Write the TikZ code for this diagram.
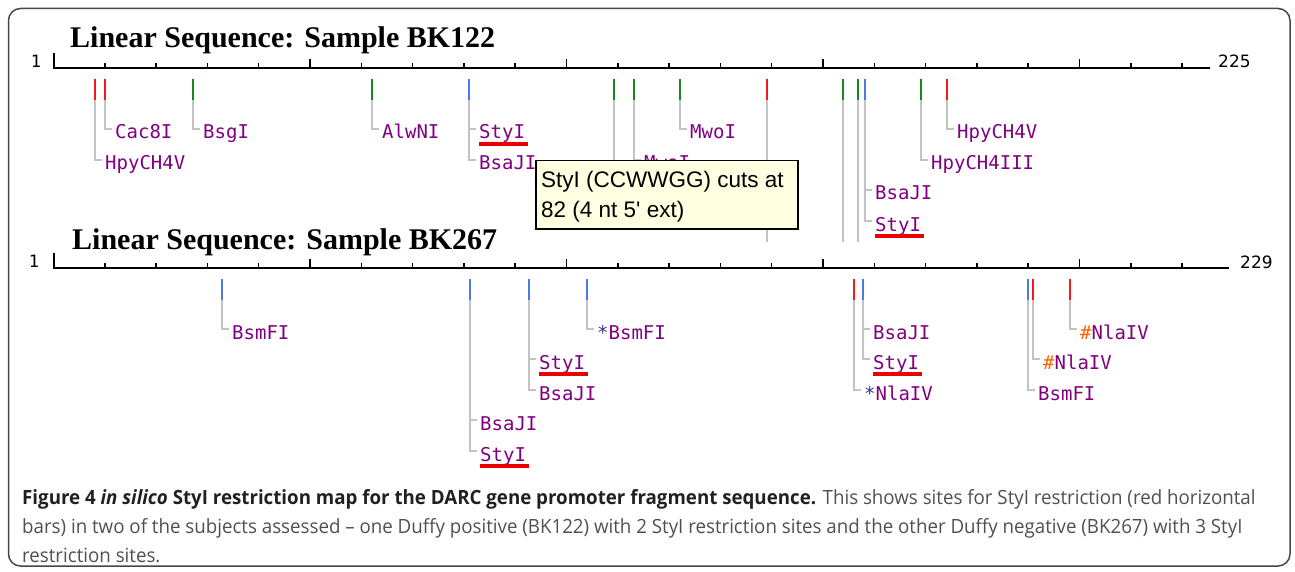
\documentclass[tikz,border=0pt]{standalone}
\usepackage{fontspec}
\setmainfont{Liberation Sans}
\newfontfamily\labfont{DejaVu Sans Mono}
\newfontfamily\headfont{Liberation Serif}
\newfontfamily\numfont{DejaVu Sans}
\newfontfamily\onefont{DejaVu Sans Mono}
\newfontfamily\tipfont{Liberation Sans}
\newfontfamily\capfont[FakeStretch=0.955]{Open Sans}
\definecolor{frameGray}{RGB}{70,70,70}
\definecolor{connGray}{RGB}{195,195,195}
\definecolor{labPurple}{RGB}{128,0,128}
\definecolor{mkRed}{RGB}{245,25,25}
\definecolor{mkGreen}{RGB}{25,135,25}
\definecolor{mkBlue}{RGB}{80,120,230}
\definecolor{ulRed}{RGB}{235,0,0}
\definecolor{starNavy}{RGB}{50,50,140}
\definecolor{hashOrange}{RGB}{255,100,0}
\definecolor{tipYellow}{RGB}{255,255,225}
\definecolor{capBlack}{RGB}{35,31,32}
\definecolor{capGray}{RGB}{80,80,80}
\newcommand\msite[4]{%
  \coordinate (#1t) at (#2,#3);
  \coordinate (#1b) at (#2,#3+21);
  \draw[mk,#4] (#1t) -- (#1b);}
\newcommand\mylbl[5]{%
  \node[lab] (#2) at (#3+10,#4) {#5};
  \draw[conn] (#1b) |- ([xshift=-3pt]#2.west);}
\newcommand\myul[1]{%
  \draw[ul] ([yshift=-5pt]#1.south west) -- ([xshift=3pt,yshift=-5pt]#1.south east);}
\begin{document}
\begin{tikzpicture}[x=1pt,y=-1pt,
  mk/.style={line width=2pt},
  conn/.style={draw=connGray,line width=1.5pt},
  lab/.style={font=\labfont\fontsize{19}{19}\selectfont,text=labPurple,anchor=west,inner sep=0pt,text height=20pt,text depth=0pt},
  ul/.style={draw=ulRed,line width=3.5pt},
  axisline/.style={line width=2pt,black},
  tickline/.style={line width=1.5pt,black},
  head/.style={font=\headfont\bfseries\fontsize{30}{30}\selectfont,anchor=base west,inner sep=0pt},
  endnum/.style={font=\numfont\fontsize{17}{17}\selectfont,inner sep=0pt},
  onenum/.style={font=\onefont\fontsize{17}{17}\selectfont,inner sep=0pt},
  tipbox/.style={draw=black,line width=1.5pt,fill=tipYellow,inner sep=0pt,anchor=north west,minimum width=262pt,minimum height=68pt},
  tiptext/.style={font=\tipfont\fontsize{22.5}{22.5}\selectfont,anchor=base west,inner sep=0pt},
  captext/.style={font=\capfont\fontsize{19.6}{19.6}\selectfont,anchor=base west,inner sep=0pt,text=capGray}
]
\useasboundingbox (0,0) rectangle (1295,572);
% frame
\draw[frameGray,line width=1.5pt,rounded corners=12pt] (8.5,8.5) rectangle (1290,566);

% headings
\node[head] (h1) at (70,48) {Linear Sequence: Sample BK122};

% axis 1
\coordinate (a1s) at (54,68);
\coordinate (a1e) at (1210,68);
\draw[axisline] (54,53) -- (a1s) -- (a1e);
\foreach \k in {1,...,22}{
  \pgfmathsetmacro\tx{53.5+51.3*\k}
  \pgfmathsetmacro\th{ifthenelse(mod(\k,5)==0,9,5)}
  \draw[tickline] (\tx,68) -- (\tx,68-\th);
}
\node[onenum] (one1) at (36,61) {1};
\node[endnum,anchor=west] (end1) at (1218,61) {225};

% top sites
\msite{A1}{95}{79}{mkRed}
\msite{A2}{105}{79}{mkRed}
\msite{A3}{193}{79}{mkGreen}
\msite{A4}{372}{79}{mkGreen}
\msite{A5}{469}{79}{mkBlue}
\msite{A6}{614}{79}{mkGreen}
\msite{A7}{634}{79}{mkGreen}
\msite{A8}{680}{79}{mkGreen}
\msite{A9}{767}{79}{mkRed}
\msite{A10}{843}{79}{mkGreen}
\msite{A11}{858}{79}{mkGreen}
\msite{A12}{865}{79}{mkBlue}
\msite{A13}{921}{79}{mkGreen}
\msite{A14}{947}{79}{mkRed}

\mylbl{A1}{lA1}{95}{160}{HpyCH4V}
\mylbl{A2}{lA2}{105}{129}{Cac8I}
\mylbl{A3}{lA3}{193}{129}{BsgI}
\mylbl{A4}{lA4}{372}{129}{AlwNI}
\mylbl{A5}{lA5a}{469}{129}{StyI}
\mylbl{A5}{lA5b}{469}{160}{BsaJI}
\myul{lA5a}
\coordinate (A6e) at (614,215);
\draw[conn] (A6b) -- (A6e);
\mylbl{A7}{lA7}{634}{160}{MwoI}
\mylbl{A8}{lA8}{680}{129}{MwoI}
\coordinate (A9e) at (767,242);
\draw[conn] (A9b) -- (A9e);
\coordinate (A10e) at (843,242);
\draw[conn] (A10b) -- (A10e);
\coordinate (A11e) at (858,242);
\draw[conn] (A11b) -- (A11e);
\mylbl{A12}{lA12a}{865}{190}{BsaJI}
\mylbl{A12}{lA12b}{865}{221}{StyI}
\myul{lA12b}
\mylbl{A13}{lA13}{921}{160}{HpyCH4III}
\mylbl{A14}{lA14}{947}{129}{HpyCH4V}

% tooltip
\node[tipbox] (tip) at (535,160) {};
\node[tiptext] (tip1) at (541,188) {StyI (CCWWGG) cuts at};
\node[tiptext] (tip2) at (541,217) {82 (4 nt 5\textquotesingle\ ext)};

% second panel
\node[head] (h2) at (72,249) {Linear Sequence: Sample BK267};
\coordinate (a2s) at (54,268);
\coordinate (a2e) at (1229,268);
\draw[axisline] (54,253) -- (a2s) -- (a2e);
\foreach \k in {1,...,22}{
  \pgfmathsetmacro\tx{53.5+51.3*\k}
  \pgfmathsetmacro\th{ifthenelse(mod(\k,5)==0,9,5)}
  \draw[tickline] (\tx,268) -- (\tx,268-\th);
}
\node[onenum] (one2) at (34,261) {1};
\node[endnum,anchor=west] (end2) at (1240,262) {229};

\msite{B1}{222}{279}{mkBlue}
\msite{B2}{470}{279}{mkBlue}
\msite{B3}{529}{279}{mkBlue}
\msite{B4}{587}{279}{mkBlue}
\msite{B5}{854}{279}{mkRed}
\msite{B6}{863}{279}{mkBlue}
\msite{B7}{1028}{279}{mkBlue}
\msite{B8}{1033}{279}{mkRed}
\msite{B9}{1070}{279}{mkRed}

\mylbl{B1}{lB1}{222}{329}{BsmFI}
\mylbl{B2}{lB2a}{470}{420}{BsaJI}
\mylbl{B2}{lB2b}{470}{451}{StyI}
\myul{lB2b}
\mylbl{B3}{lB3a}{529}{359}{StyI}
\mylbl{B3}{lB3b}{529}{390}{BsaJI}
\myul{lB3a}
\mylbl{B4}{lB4}{587}{329}{{\color{starNavy}*}BsmFI}
\mylbl{B5}{lB5}{854}{390}{{\color{starNavy}*}NlaIV}
\mylbl{B6}{lB6a}{863}{329}{BsaJI}
\mylbl{B6}{lB6b}{863}{359}{StyI}
\myul{lB6b}
\mylbl{B7}{lB7}{1028}{390}{BsmFI}
\mylbl{B8}{lB8}{1033}{359}{{\color{hashOrange}\#}NlaIV}
\mylbl{B9}{lB9}{1070}{329}{{\color{hashOrange}\#}NlaIV}

% caption
\node[captext] (c1) at (22,504) {{\bfseries\color{capBlack}Figure 4 \textit{in silico} StyI restriction map for the DARC gene promoter fragment sequence.} This shows sites for StyI restriction (red horizontal};
\node[captext] (c2) at (22,533) {bars) in two of the subjects assessed – one Duffy positive (BK122) with 2 StyI restriction sites and the other Duffy negative (BK267) with 3 StyI};
\node[captext] (c3) at (22,562) {restriction sites.};
\end{tikzpicture}
\end{document}
